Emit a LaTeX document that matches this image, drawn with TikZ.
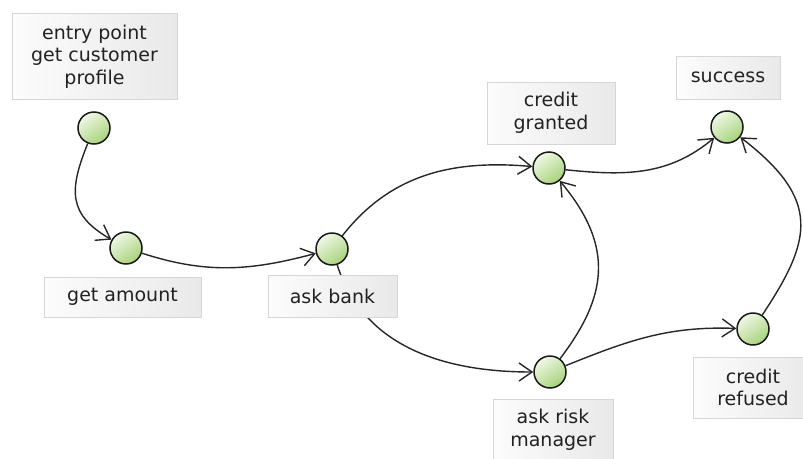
\documentclass[tikz,border=0pt]{standalone}
\usepackage{fontspec}
\setmainfont{DejaVu Sans}
\usetikzlibrary{arrows.meta}
\definecolor{circA}{HTML}{F0F8E6}
\definecolor{circB}{HTML}{A6D27A}
\definecolor{boxL}{HTML}{FCFCFC}
\definecolor{boxR}{HTML}{E9E9E9}
\definecolor{boxD}{HTML}{D6D6D6}
\definecolor{txt}{HTML}{222222}
\tikzset{
  state/.style={circle, draw=black!90, line width=1.5pt, minimum size=32pt, inner sep=0pt,
    top color=circA, bottom color=circB, shading angle=35},
  lbl/.style={draw=boxD, line width=0.8pt, left color=boxL, right color=boxR, text=txt,
    align=center, inner sep=0pt, font=\fontsize{19}{22.5}\selectfont},
  flow/.style={-{Straight Barb[length=13pt,width=18pt,line width=1.4pt]}, line width=1.4pt, black!85}
}
\begin{document}
\begin{tikzpicture}[x=1pt,y=-1pt]
\clip (0,0) rectangle (803,458);
\fill[white] (0,0) rectangle (803,458);
% states
\node[state] (entry) at (94,128) {};
\node[state] (amount) at (126,248) {};
\node[state] (bank) at (332,249) {};
\node[state] (granted) at (549,168) {};
\node[state] (success) at (727,127) {};
\node[state] (refused) at (753,329) {};
\node[state] (risk) at (550,372) {};
% connectors
\draw[flow] (entry) to[out=-112,in=150,looseness=1.3] (amount);
\draw[flow] (amount) to[out=-18,in=195] (bank);
\draw[flow] (bank) to[out=52,in=175] (granted);
\draw[flow] (bank) to[out=-72,in=180] (risk);
\draw[flow] (risk) .. controls (606,298) and (616,248) .. (granted);
\draw[flow] (risk) to[out=22,in=178] (refused);
\draw[flow] (granted) to[out=-6,in=-140] (success);
\draw[flow] (refused) .. controls (812,240) and (822,200) .. (success);
% labels
\node[lbl, minimum width=165pt, minimum height=86pt] (lentry) at (94.5,56.5) {entry point\\get customer\\profile};
\node[lbl, minimum width=157pt, minimum height=40pt] (lamount) at (122.5,297) {get amount};
\node[lbl, minimum width=129pt, minimum height=42pt] (lbank) at (332.5,296) {ask bank};
\node[lbl, minimum width=128pt, minimum height=62pt] (lgranted) at (551,113) {credit\\granted};
\node[lbl, minimum width=104pt, minimum height=43pt] (lsuccess) at (728,77.5) {success};
\node[lbl, minimum width=120pt, minimum height=61pt] (lrefused) at (753,387.5) {credit\\refused};
\node[lbl, minimum width=120pt, minimum height=62pt] (lrisk) at (553,430) {ask risk\\manager};
\end{tikzpicture}
\end{document}
